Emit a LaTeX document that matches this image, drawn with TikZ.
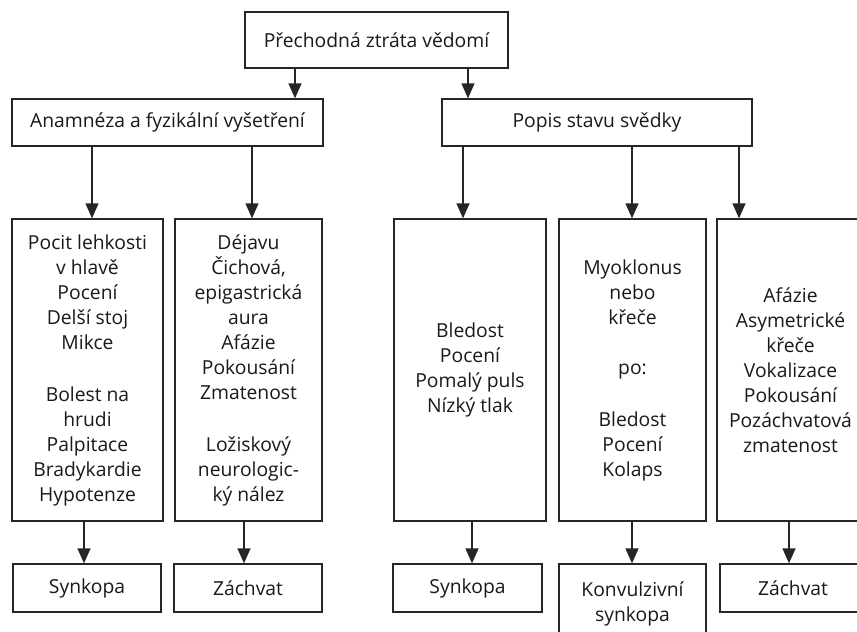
\documentclass[tikz,border=0pt]{standalone}
\usepackage{fontspec}
\setmainfont{Open Sans}
\usetikzlibrary{arrows.meta}
\begin{document}
\begin{tikzpicture}[x=1pt,y=-1pt,
  box/.style={draw=black!85, line width=1.3pt, inner sep=0pt, align=center,
    font={\fontsize{19.3}{25}\selectfont}, text=black!90},
  arr/.style={draw=black!85, line width=1.3pt, -{Triangle[length=15pt,width=13pt]}}]
\useasboundingbox (0,0) rectangle (857,632);
\clip (0,0) rectangle (857,632);
\fill[white] (0,0) rectangle (857,632);
% top levels
\node[box, minimum width=263pt, minimum height=56pt] (top) at (376.5,40) {Přechodná ztráta vědomí};
\node[box, minimum width=311pt, minimum height=47pt] (anam) at (167.5,122.5) {Anamnéza a fyzikální vyšetření};
\node[box, minimum width=310pt, minimum height=47pt] (popis) at (597,122.5) {Popis stavu svědky};
% middle boxes
\node[box, minimum width=151pt, minimum height=302pt] (b1) at (87.5,370) {Pocit lehkosti\\v hlavě\\Pocení\\Delší stoj\\Mikce\\[27pt]Bolest na\\hrudi\\Palpitace\\Bradykardie\\Hypotenze};
\node[box, minimum width=147pt, minimum height=302pt] (b2) at (248.5,370) {Déjavu\\Čichová,\\epigastrická\\aura\\Afázie\\Pokousání\\Zmatenost\\[27pt]Ložiskový\\neurologic-\\ký nález};
\node[box, minimum width=152pt, minimum height=302pt] (b3) at (470,370) {Bledost\\Pocení\\Pomalý puls\\Nízký tlak};
\node[box, minimum width=147pt, minimum height=302pt] (b4) at (632.5,370) {Myoklonus\\nebo\\křeče\\[25pt]po:\\[27pt]Bledost\\Pocení\\Kolaps};
\node[box, minimum width=147pt, minimum height=302pt] (b5) at (790.5,370) {Afázie\\Asymetrické\\křeče\\Vokalizace\\Pokousání\\Pozáchvatová\\zmatenost};
% bottom boxes
\node[box, minimum width=148pt, minimum height=48pt] (c1) at (87,588) {Synkopa};
\node[box, minimum width=148pt, minimum height=48pt] (c2) at (248,588) {Záchvat};
\node[box, minimum width=149pt, minimum height=48pt] (c3) at (467.5,588) {Synkopa};
\node[box, minimum width=147pt, minimum height=80pt] (c4) at (632.5,604) {Konvulzivní\\synkopa};
\node[box, minimum width=146pt, minimum height=48pt] (c5) at (793,588) {Záchvat};
% arrow columns
\coordinate (t1) at (295,0);
\coordinate (t2) at (468,0);
\coordinate (a1) at (92,0);
\coordinate (a2) at (252,0);
\coordinate (p1) at (463,0);
\coordinate (p2) at (632,0);
\coordinate (p3) at (739,0);
\coordinate (d1) at (84,0);
\coordinate (d2) at (244,0);
\coordinate (d3) at (472,0);
\coordinate (d4) at (632,0);
\coordinate (d5) at (789,0);
\draw[arr] (top.south -| t1) -- (anam.north -| t1);
\draw[arr] (top.south -| t2) -- (popis.north -| t2);
\draw[arr] (anam.south -| a1) -- (b1.north -| a1);
\draw[arr] (anam.south -| a2) -- (b2.north -| a2);
\draw[arr] (popis.south -| p1) -- (b3.north -| p1);
\draw[arr] (popis.south -| p2) -- (b4.north -| p2);
\draw[arr] (popis.south -| p3) -- (b5.north -| p3);
\draw[arr] (b1.south -| d1) -- (c1.north -| d1);
\draw[arr] (b2.south -| d2) -- (c2.north -| d2);
\draw[arr] (b3.south -| d3) -- (c3.north -| d3);
\draw[arr] (b4.south -| d4) -- (c4.north -| d4);
\draw[arr] (b5.south -| d5) -- (c5.north -| d5);
\end{tikzpicture}
\end{document}
